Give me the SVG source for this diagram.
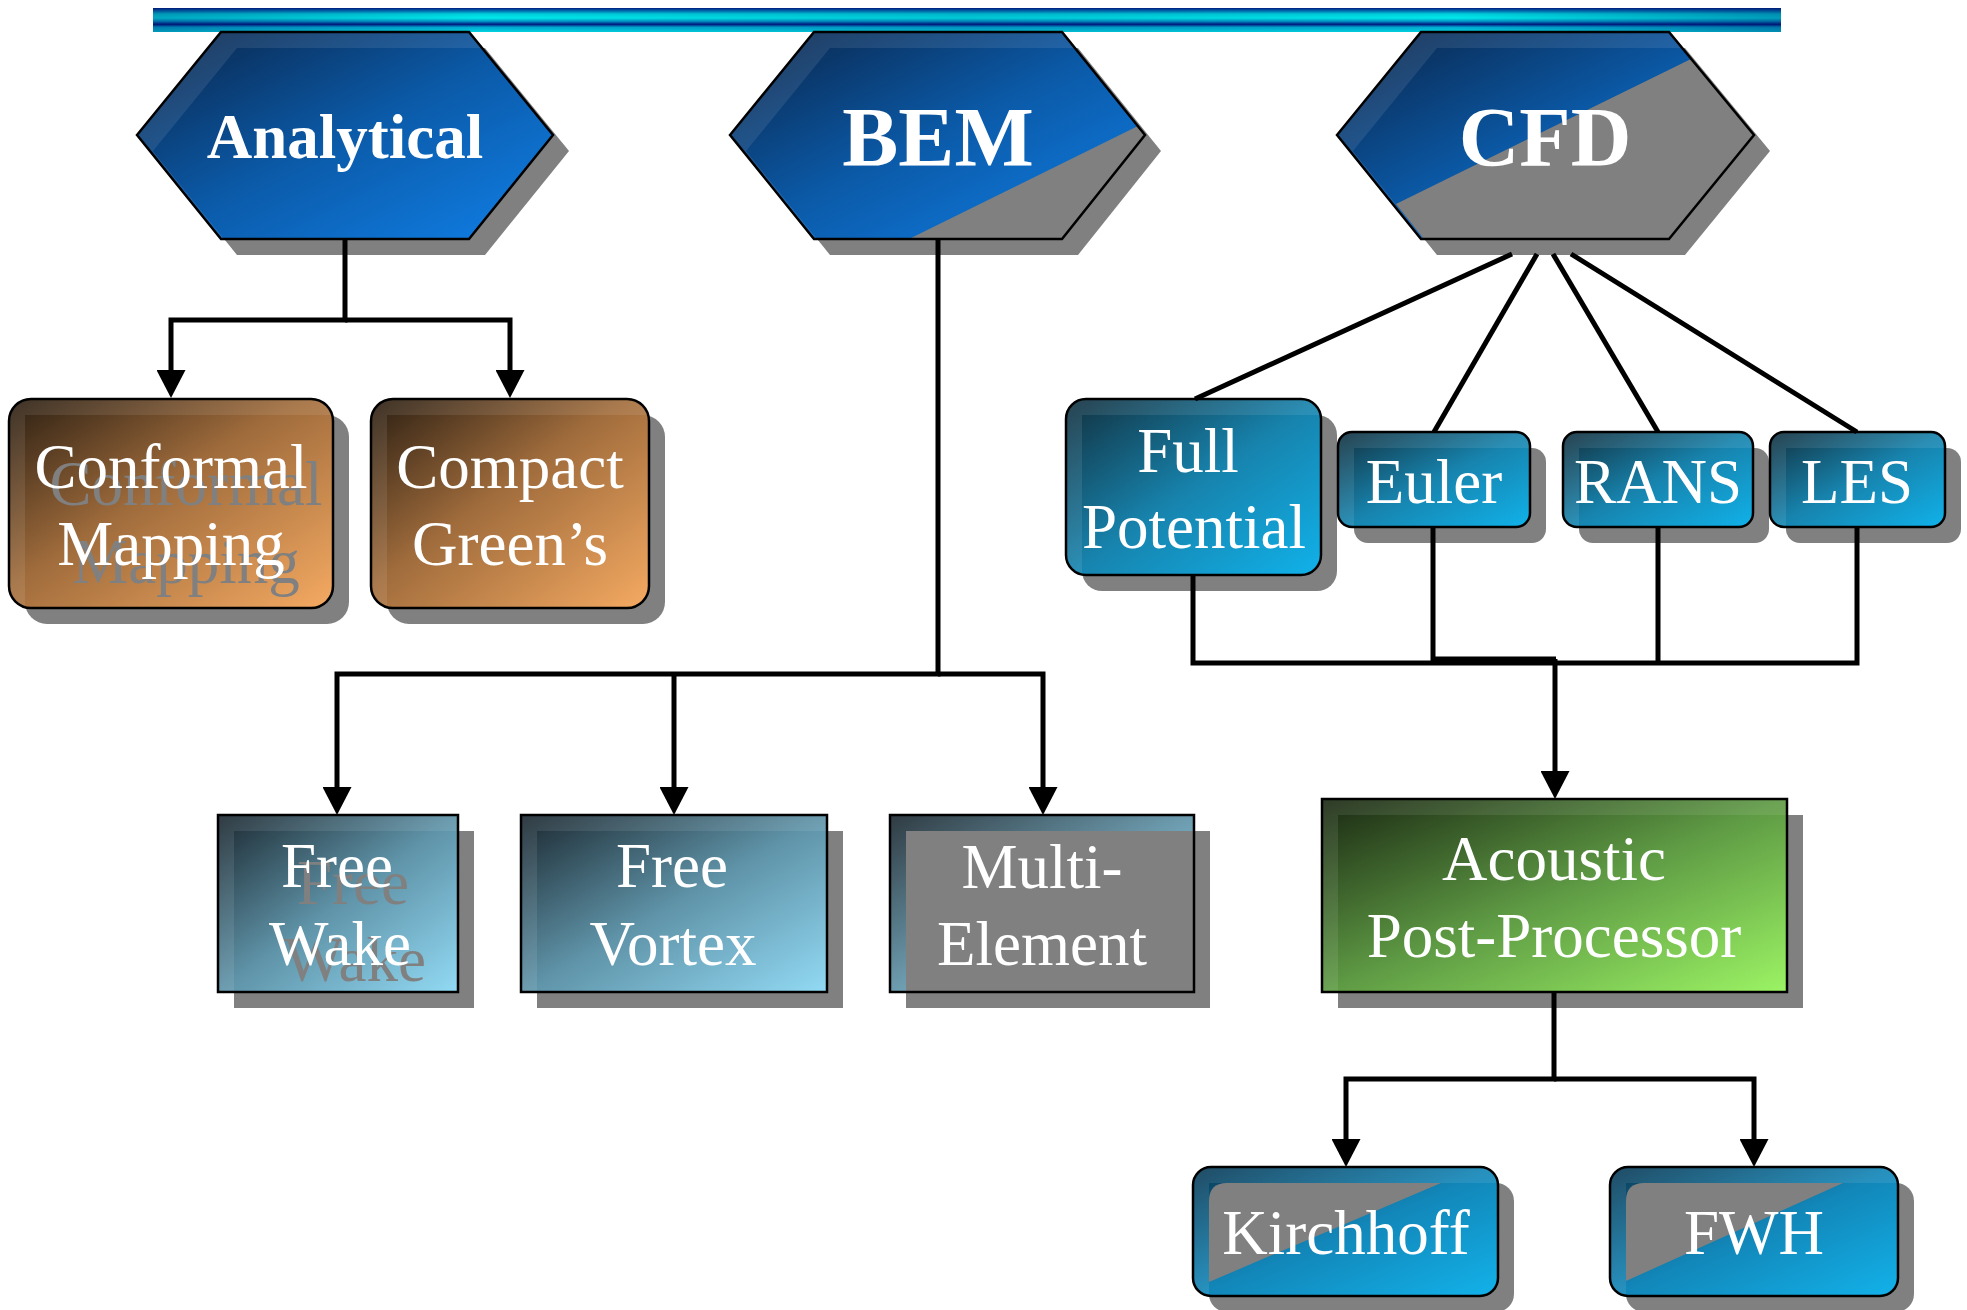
<svg xmlns="http://www.w3.org/2000/svg" width="1967" height="1310" viewBox="0 0 1967 1310">
<style>
.sh{fill:#808080}
.ol{fill:none;stroke:#000;stroke-width:2.5}
.band{fill:#fff;fill-opacity:0.09}
.t{font-family:"Liberation Serif","Times New Roman",serif;fill:#fff;font-size:63px;text-anchor:middle}
.tb{font-family:"Liberation Serif","Times New Roman",serif;fill:#fff;font-weight:bold;text-anchor:middle}
.gh{font-family:"Liberation Serif","Times New Roman",serif;fill:#808080;font-size:63px;text-anchor:middle}
.gov{fill:#808080}
.cn{fill:none;stroke:#000;stroke-width:5}
</style>
<defs>
<linearGradient id="gBar" x1="0" y1="0" x2="0" y2="1">
<stop offset="0" stop-color="#001c84"/>
<stop offset="0.12" stop-color="#0070b0"/>
<stop offset="0.25" stop-color="#00d0dc"/>
<stop offset="0.42" stop-color="#00eaea"/>
<stop offset="0.56" stop-color="#0090c4"/>
<stop offset="0.68" stop-color="#00187e"/>
<stop offset="0.8" stop-color="#00a8d0"/>
<stop offset="1" stop-color="#00d4e0"/>
</linearGradient>
<linearGradient id="gBarH" x1="0" y1="0" x2="1" y2="0">
<stop offset="0" stop-color="#001060" stop-opacity="0.3"/>
<stop offset="0.2" stop-color="#001060" stop-opacity="0"/>
<stop offset="0.5" stop-color="#001060" stop-opacity="0.15"/>
<stop offset="0.8" stop-color="#001060" stop-opacity="0"/>
<stop offset="1" stop-color="#001060" stop-opacity="0.35"/>
</linearGradient>
<linearGradient id="gHex" x1="0" y1="0" x2="1" y2="1">
<stop offset="0" stop-color="#0a2346"/>
<stop offset="0.5" stop-color="#0b5aa8"/>
<stop offset="1" stop-color="#1080e8"/>
</linearGradient>
<linearGradient id="gOr" x1="0" y1="0" x2="1" y2="1">
<stop offset="0" stop-color="#2a1e12"/>
<stop offset="0.45" stop-color="#a06c3c"/>
<stop offset="1" stop-color="#f5aa62"/>
</linearGradient>
<linearGradient id="gTeal" x1="0" y1="0" x2="1" y2="1">
<stop offset="0" stop-color="#12303e"/>
<stop offset="0.5" stop-color="#1783ad"/>
<stop offset="1" stop-color="#10b2ea"/>
</linearGradient>
<linearGradient id="gLb" x1="0" y1="0" x2="1" y2="1">
<stop offset="0" stop-color="#1b2830"/>
<stop offset="0.5" stop-color="#5f93a8"/>
<stop offset="1" stop-color="#92daf4"/>
</linearGradient>
<linearGradient id="gGr" x1="0" y1="0" x2="1" y2="1">
<stop offset="0" stop-color="#1a2812"/>
<stop offset="0.5" stop-color="#5e9a44"/>
<stop offset="1" stop-color="#9cf464"/>
</linearGradient>
<linearGradient id="gKi" x1="0" y1="0" x2="1" y2="1">
<stop offset="0" stop-color="#0b3a55"/>
<stop offset="0.5" stop-color="#1286b8"/>
<stop offset="1" stop-color="#12b2ea"/>
</linearGradient>
<marker id="ar" viewBox="0 0 28 29" markerWidth="28" markerHeight="29" markerUnits="userSpaceOnUse" refX="14" refY="14.5" orient="auto">
<path d="M0,0 L28,14.5 L0,29 z" fill="#000"/>
</marker>
<clipPath id="cA"><polygon points="137,135 221,32 469,32 553,135 469,239 221,239"/></clipPath>
<clipPath id="cB"><polygon points="730,135 814,32 1062,32 1145,135 1062,239 814,239"/></clipPath>
<clipPath id="cC"><polygon points="1337,135 1421,32 1669,32 1754,135 1669,239 1421,239"/></clipPath>
<clipPath id="c1"><rect x="9" y="399" width="324" height="209" rx="22"/></clipPath>
<clipPath id="c2"><rect x="371" y="399" width="278" height="209" rx="22"/></clipPath>
<clipPath id="c3"><rect x="1066" y="399" width="255" height="176" rx="20"/></clipPath>
<clipPath id="c4"><rect x="1338" y="432" width="192" height="95" rx="14"/></clipPath>
<clipPath id="c5"><rect x="1563" y="432" width="190" height="95" rx="14"/></clipPath>
<clipPath id="c6"><rect x="1770" y="432" width="175" height="95" rx="14"/></clipPath>
<clipPath id="c11"><rect x="1193" y="1167" width="305" height="129" rx="18"/></clipPath>
<clipPath id="c12"><rect x="1610" y="1167" width="288" height="129" rx="18"/></clipPath>
</defs>

<g id="topbar">
<rect x="153" y="8" width="1628" height="24" fill="url(#gBar)"/>
<rect x="153" y="8" width="1628" height="24" fill="url(#gBarH)"/>
</g>

<g id="analytical">
<polygon class="sh" points="153,151 237,48 485,48 569,151 485,255 237,255"/>
<polygon points="137,135 221,32 469,32 553,135 469,239 221,239" fill="url(#gHex)"/>
<path class="band" clip-path="url(#cA)" fill-rule="evenodd" d="M137,135 221,32 469,32 553,135 469,239 221,239z M153,151 237,48 485,48 569,151 485,255 237,255z"/>
<polygon class="ol" points="137,135 221,32 469,32 553,135 469,239 221,239"/>
<text class="tb" x="345" y="158" font-size="63">Analytical</text>
</g>

<g id="bem">
<polygon class="sh" points="746,151 830,48 1078,48 1161,151 1078,255 830,255"/>
<polygon points="730,135 814,32 1062,32 1145,135 1062,239 814,239" fill="url(#gHex)"/>
<path class="band" clip-path="url(#cB)" fill-rule="evenodd" d="M730,135 814,32 1062,32 1145,135 1062,239 814,239z M746,151 830,48 1078,48 1161,151 1078,255 830,255z"/>
<polygon class="gov" points="1138,126 1145,135 1062,239 909,239"/>
<polygon class="ol" points="730,135 814,32 1062,32 1145,135 1062,239 814,239"/>
<text class="tb" x="938" y="166" font-size="84">BEM</text>
</g>

<g id="cfd">
<polygon class="sh" points="1353,151 1437,48 1685,48 1770,151 1685,255 1437,255"/>
<polygon points="1337,135 1421,32 1669,32 1754,135 1669,239 1421,239" fill="url(#gHex)"/>
<path class="band" clip-path="url(#cC)" fill-rule="evenodd" d="M1337,135 1421,32 1669,32 1754,135 1669,239 1421,239z M1353,151 1437,48 1685,48 1770,151 1685,255 1437,255z"/>
<polygon class="gov" points="1691,59 1754,135 1669,239 1424,239 1396,204"/>
<polygon class="ol" points="1337,135 1421,32 1669,32 1754,135 1669,239 1421,239"/>
<text class="tb" x="1545" y="166" font-size="84">CFD</text>
</g>

<g id="conformal-mapping">
<rect class="sh" x="25" y="415" width="324" height="209" rx="22"/>
<rect x="9" y="399" width="324" height="209" rx="22" fill="url(#gOr)"/>
<g clip-path="url(#c1)"><rect class="band" x="9" y="399" width="324" height="16"/><rect class="band" x="9" y="415" width="16" height="193"/></g>
<rect class="ol" x="9" y="399" width="324" height="209" rx="22"/>
<text class="gh" x="186" y="505">Conformal</text>
<text class="gh" x="186" y="583">Mapping</text>
<text class="t" x="171" y="488">Conformal</text>
<text class="t" x="171" y="565">Mapping</text>
</g>

<g id="compact-greens">
<rect class="sh" x="387" y="415" width="278" height="209" rx="22"/>
<rect x="371" y="399" width="278" height="209" rx="22" fill="url(#gOr)"/>
<g clip-path="url(#c2)"><rect class="band" x="371" y="399" width="278" height="16"/><rect class="band" x="371" y="415" width="16" height="193"/></g>
<rect class="ol" x="371" y="399" width="278" height="209" rx="22"/>
<text class="t" x="510" y="488">Compact</text>
<text class="t" x="510" y="565">Green’s</text>
</g>

<g id="full-potential">
<rect class="sh" x="1082" y="415" width="255" height="176" rx="20"/>
<rect x="1066" y="399" width="255" height="176" rx="20" fill="url(#gTeal)"/>
<g clip-path="url(#c3)"><rect class="band" x="1066" y="399" width="255" height="16"/><rect class="band" x="1066" y="415" width="16" height="160"/></g>
<rect class="ol" x="1066" y="399" width="255" height="176" rx="20"/>
<text class="t" x="1188" y="472">Full</text>
<text class="t" x="1194" y="548">Potential</text>
</g>

<g id="euler">
<rect class="sh" x="1354" y="448" width="192" height="95" rx="14"/>
<rect x="1338" y="432" width="192" height="95" rx="14" fill="url(#gTeal)"/>
<g clip-path="url(#c4)"><rect class="band" x="1338" y="432" width="192" height="16"/><rect class="band" x="1338" y="448" width="16" height="79"/></g>
<rect class="ol" x="1338" y="432" width="192" height="95" rx="14"/>
<text class="t" x="1434" y="503">Euler</text>
</g>

<g id="rans">
<rect class="sh" x="1579" y="448" width="190" height="95" rx="14"/>
<rect x="1563" y="432" width="190" height="95" rx="14" fill="url(#gTeal)"/>
<g clip-path="url(#c5)"><rect class="band" x="1563" y="432" width="190" height="16"/><rect class="band" x="1563" y="448" width="16" height="79"/></g>
<rect class="ol" x="1563" y="432" width="190" height="95" rx="14"/>
<text class="t" x="1658" y="503">RANS</text>
</g>

<g id="les">
<rect class="sh" x="1786" y="448" width="175" height="95" rx="14"/>
<rect x="1770" y="432" width="175" height="95" rx="14" fill="url(#gTeal)"/>
<g clip-path="url(#c6)"><rect class="band" x="1770" y="432" width="175" height="16"/><rect class="band" x="1770" y="448" width="16" height="79"/></g>
<rect class="ol" x="1770" y="432" width="175" height="95" rx="14"/>
<text class="t" x="1857" y="503">LES</text>
</g>

<g id="free-wake">
<rect class="sh" x="234" y="831" width="240" height="177"/>
<rect x="218" y="815" width="240" height="177" fill="url(#gLb)"/>
<rect class="band" x="218" y="815" width="240" height="16"/><rect class="band" x="218" y="831" width="16" height="161"/>
<rect class="ol" x="218" y="815" width="240" height="177"/>
<text class="gh" x="353" y="904">Free</text>
<text class="gh" x="355" y="981">Wake</text>
<text class="t" x="337" y="887">Free</text>
<text class="t" x="340" y="965">Wake</text>
</g>

<g id="free-vortex">
<rect class="sh" x="537" y="831" width="306" height="177"/>
<rect x="521" y="815" width="306" height="177" fill="url(#gLb)"/>
<rect class="band" x="521" y="815" width="306" height="16"/><rect class="band" x="521" y="831" width="16" height="161"/>
<rect class="ol" x="521" y="815" width="306" height="177"/>
<text class="t" x="672" y="887">Free</text>
<text class="t" x="673" y="965">Vortex</text>
</g>

<g id="multi-element">
<rect class="sh" x="906" y="831" width="304" height="177"/>
<rect x="890" y="815" width="304" height="177" fill="url(#gLb)"/>
<rect class="band" x="890" y="815" width="304" height="16"/><rect class="band" x="890" y="831" width="16" height="161"/>
<rect class="gov" x="906" y="831" width="288" height="161"/>
<rect class="ol" x="890" y="815" width="304" height="177"/>
<text class="t" x="1042" y="888">Multi-</text>
<text class="t" x="1042" y="965">Element</text>
</g>

<g id="acoustic-post-processor">
<rect class="sh" x="1338" y="815" width="465" height="193"/>
<rect x="1322" y="799" width="465" height="193" fill="url(#gGr)"/>
<rect class="band" x="1322" y="799" width="465" height="16"/><rect class="band" x="1322" y="815" width="16" height="177"/>
<rect class="ol" x="1322" y="799" width="465" height="193"/>
<text class="t" x="1554" y="880">Acoustic</text>
<text class="t" x="1554" y="957">Post-Processor</text>
</g>

<g id="kirchhoff">
<rect class="sh" x="1209" y="1183" width="305" height="129" rx="18"/>
<rect x="1193" y="1167" width="305" height="129" rx="18" fill="url(#gKi)"/>
<g clip-path="url(#c11)"><rect class="band" x="1193" y="1167" width="305" height="16"/><rect class="band" x="1193" y="1183" width="16" height="113"/>
<path class="gov" d="M1227,1183 H1441 L1209,1282 V1201 Q1209,1183 1227,1183 z"/></g>
<rect class="ol" x="1193" y="1167" width="305" height="129" rx="18"/>
<text class="t" x="1346" y="1254">Kirchhoff</text>
</g>

<g id="fwh">
<rect class="sh" x="1626" y="1183" width="288" height="129" rx="18"/>
<rect x="1610" y="1167" width="288" height="129" rx="18" fill="url(#gKi)"/>
<g clip-path="url(#c12)"><rect class="band" x="1610" y="1167" width="288" height="16"/><rect class="band" x="1610" y="1183" width="16" height="113"/>
<path class="gov" d="M1644,1183 H1843 L1626,1281 V1201 Q1626,1183 1644,1183 z"/></g>
<rect class="ol" x="1610" y="1167" width="288" height="129" rx="18"/>
<text class="t" x="1754" y="1254">FWH</text>
</g>

<g id="connectors">
<path class="cn" d="M345,239 V320 H171 V384" marker-end="url(#ar)"/>
<path class="cn" d="M345,320 H510 V384" marker-end="url(#ar)"/>
<path class="cn" d="M938,239 V674 H337 V801" marker-end="url(#ar)"/>
<path class="cn" d="M674,674 V801" marker-end="url(#ar)"/>
<path class="cn" d="M938,674 H1043 V801" marker-end="url(#ar)"/>
<path class="cn" d="M1512,254 L1195,399"/>
<path class="cn" d="M1537,254 L1434,432"/>
<path class="cn" d="M1553,254 L1658,432"/>
<path class="cn" d="M1571,254 L1857,432"/>
<path class="cn" d="M1193,575 V663 H1857 V527"/>
<path class="cn" d="M1433,527 V659 H1556"/>
<path class="cn" d="M1658,527 V663"/>
<path class="cn" d="M1555,659 V785" marker-end="url(#ar)"/>
<path class="cn" d="M1554,992 V1079 H1346 V1153" marker-end="url(#ar)"/>
<path class="cn" d="M1554,1079 H1754 V1153" marker-end="url(#ar)"/>
</g>
</svg>
